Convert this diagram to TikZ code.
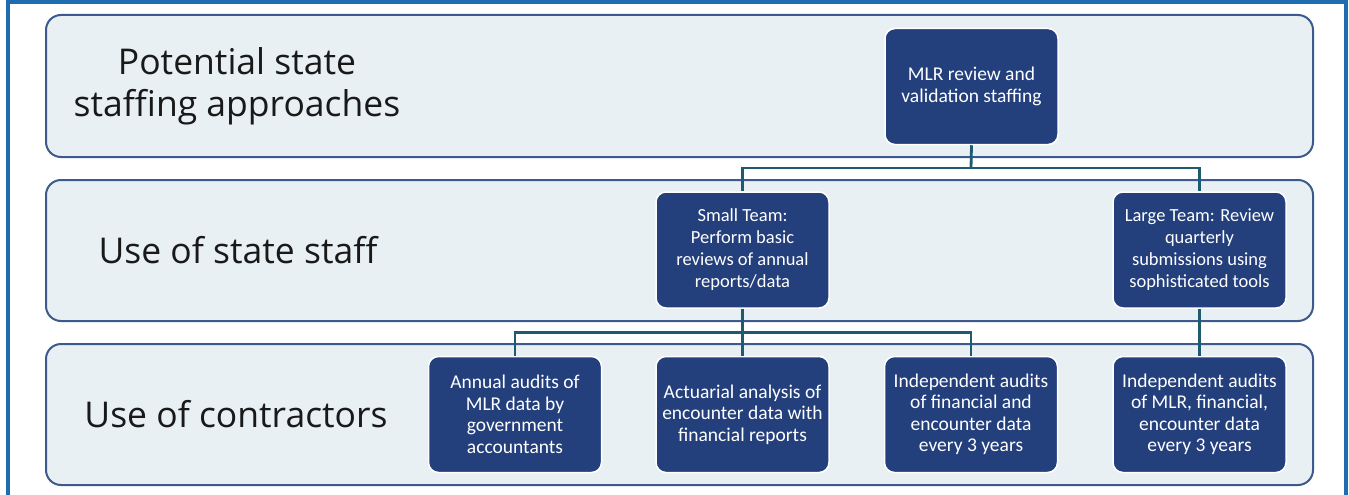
\documentclass[tikz,border=0pt]{standalone}
\usepackage{fontspec}
\setmainfont{Carlito}
\newfontfamily\labelfont{Open Sans}
\definecolor{frameblue}{HTML}{1F6DB0}
\definecolor{bandfill}{HTML}{E8F0F4}
\definecolor{banddraw}{HTML}{3D5A8E}
\definecolor{boxfill}{HTML}{233F7C}
\definecolor{linkcol}{HTML}{1E5B70}
\begin{document}
\begin{tikzpicture}[x=1pt,y=-1pt,
  band/.style={draw=banddraw,fill=bandfill,line width=2pt,rounded corners=15pt},
  bandlabel/.style={font=\labelfont\fontsize{35.5}{42}\selectfont,align=center,text=black!90},
  card/.style={draw=white,fill=boxfill,line width=1.5pt,rounded corners=10pt,
    minimum width=173pt,minimum height=116pt,inner sep=0pt,text=white,align=center,
    font=\fontsize{19.5}{21.5}\selectfont},
  tightcard/.style={card,font=\fontsize{18.5}{22}\selectfont},
  link/.style={draw=linkcol,line width=2.8pt}]
\useasboundingbox (0,0) rectangle (1349,495);
% page frame (open at the bottom)
\draw[frameblue,line width=4pt] (8,495) -- (8,2) -- (1346,2) -- (1346,495);
% the three bands
\draw[band] (46,15) rectangle (1313,157);
\draw[band] (46,180) rectangle (1313,321);
\draw[band] (46,344) rectangle (1313,485);
\node[bandlabel] (l1) at (237,86) {Potential state\\staffing approaches};
\node[bandlabel] (l2) at (238,250) {Use of state staff};
\node[bandlabel] (l3) at (236,414) {Use of contractors};
% cards
\node[card] (mlr) at (971.5,86.5) {MLR review and\\validation staffing};
\node[tightcard] (small) at (742.5,250) {Small Team:\\Perform basic\\reviews of annual\\reports/data};
\node[tightcard] (large) at (1199.5,250) {Large Team: Review\\quarterly\\submissions using\\sophisticated tools};
\node[card] (c1) at (515,414.5) {Annual audits of\\MLR data by\\government\\accountants};
\node[card] (c2) at (742.5,414.5) {Actuarial analysis of\\encounter data with\\financial reports};
\node[card] (c3) at (971,414.5) {Independent audits\\of financial and\\encounter data\\every 3 years};
\node[card] (c4) at (1199.5,414.5) {Independent audits\\of MLR, financial,\\encounter data\\every 3 years};
% connectors
\coordinate (j1) at (971,168);
\coordinate (j2) at (742.5,332.5);
\draw[link] (mlr.south) -- (j1);
\draw[link] (j1) -| (small.north);
\draw[link] (j1) -| (large.north);
\draw[link] (small.south) -- (j2);
\draw[link] (j2) -| (c1.north);
\draw[link] (j2) -- (c2.north);
\draw[link] (j2) -| (c3.north);
\draw[link] (large.south) -- (c4.north);
\end{tikzpicture}
\end{document}
